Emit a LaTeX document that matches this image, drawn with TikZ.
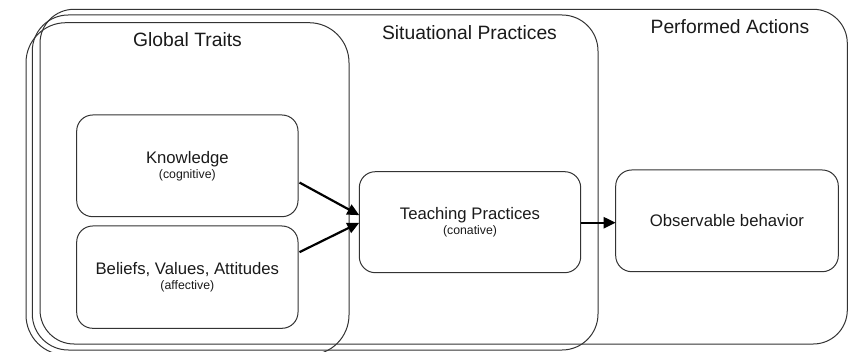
\documentclass[tikz,border=0pt]{standalone}
\usepackage{fontspec}
\setmainfont{Liberation Sans}
\usetikzlibrary{arrows.meta,calc}

\definecolor{edge}{HTML}{333333}
\definecolor{ink}{HTML}{1A1A1A}

\tikzset{
  container/.style={draw=edge, line width=1pt, inner sep=0pt, outer sep=0pt,
    anchor=north west},
  stagebox/.style={draw=edge, line width=1pt, rounded corners=16pt, inner sep=0pt,
    outer sep=0pt, anchor=north west, align=center, text=ink,
    font=\fontsize{16.7}{15}\selectfont},
  title/.style={anchor=base, text=ink, inner sep=0pt, font=\fontsize{19.3}{22}\selectfont},
  flow/.style={line width=2.2pt, draw=black, -{Triangle[length=12pt,width=11pt]}}
}

\begin{document}
\begin{tikzpicture}[x=1pt,y=-1pt]
  \useasboundingbox (0,0) rectangle (848,352);

  % three overlapping stage containers
  \node[container, rounded corners=34pt, minimum width=807.3pt, minimum height=334.7pt]
    (performed) at (40,9.3) {};
  \node[container, rounded corners=36pt, minimum width=565.7pt, minimum height=335pt]
    (situational) at (32.3,15) {};
  \node[container, rounded corners=40pt, minimum width=323pt, minimum height=332.3pt]
    (global) at (26,22.7) {};

  % container titles
  \node[title] (tglobal) at (187.5,46.7) {Global Traits};
  \node[title] (tsituational) at (469.5,40) {Situational Practices};
  \node[title] (tperformed) at (730,33.3) {Performed Actions};

  % inner stages
  \node[stagebox, minimum width=221.3pt, minimum height=101.7pt] (know) at (76.7,115)
    {Knowledge\\{\fontsize{12.3}{15}\selectfont(cognitive)}};
  \node[stagebox, minimum width=221.3pt, minimum height=102.3pt] (belief) at (76.7,226)
    {Beliefs, Values, Attitudes\\{\fontsize{12.3}{15}\selectfont(affective)}};
  \node[stagebox, minimum width=221.4pt, minimum height=101pt] (teach) at (359.3,171.7)
    {Teaching Practices\\{\fontsize{12.3}{15}\selectfont(conative)}};
  \node[stagebox, minimum width=222.6pt, minimum height=101.7pt] (observe) at (615.7,170)
    {Observable behavior};

  % connector end points
  \coordinate (kout) at ($(know.east)+(1.5,16.7)$);
  \coordinate (bout) at ($(belief.east)+(1.5,-25)$);
  \coordinate (kin) at ($(teach.west)+(0,-7)$);
  \coordinate (bin) at ($(teach.west)+(0,0.5)$);
  \coordinate (tout) at ($(teach.east)+(0,0.5)$);

  % connectors
  \draw[flow] (kout) -- (kin);
  \draw[flow] (bout) -- (bin);
  \draw[flow] (tout) -- (tout -| observe.west);
\end{tikzpicture}
\end{document}
